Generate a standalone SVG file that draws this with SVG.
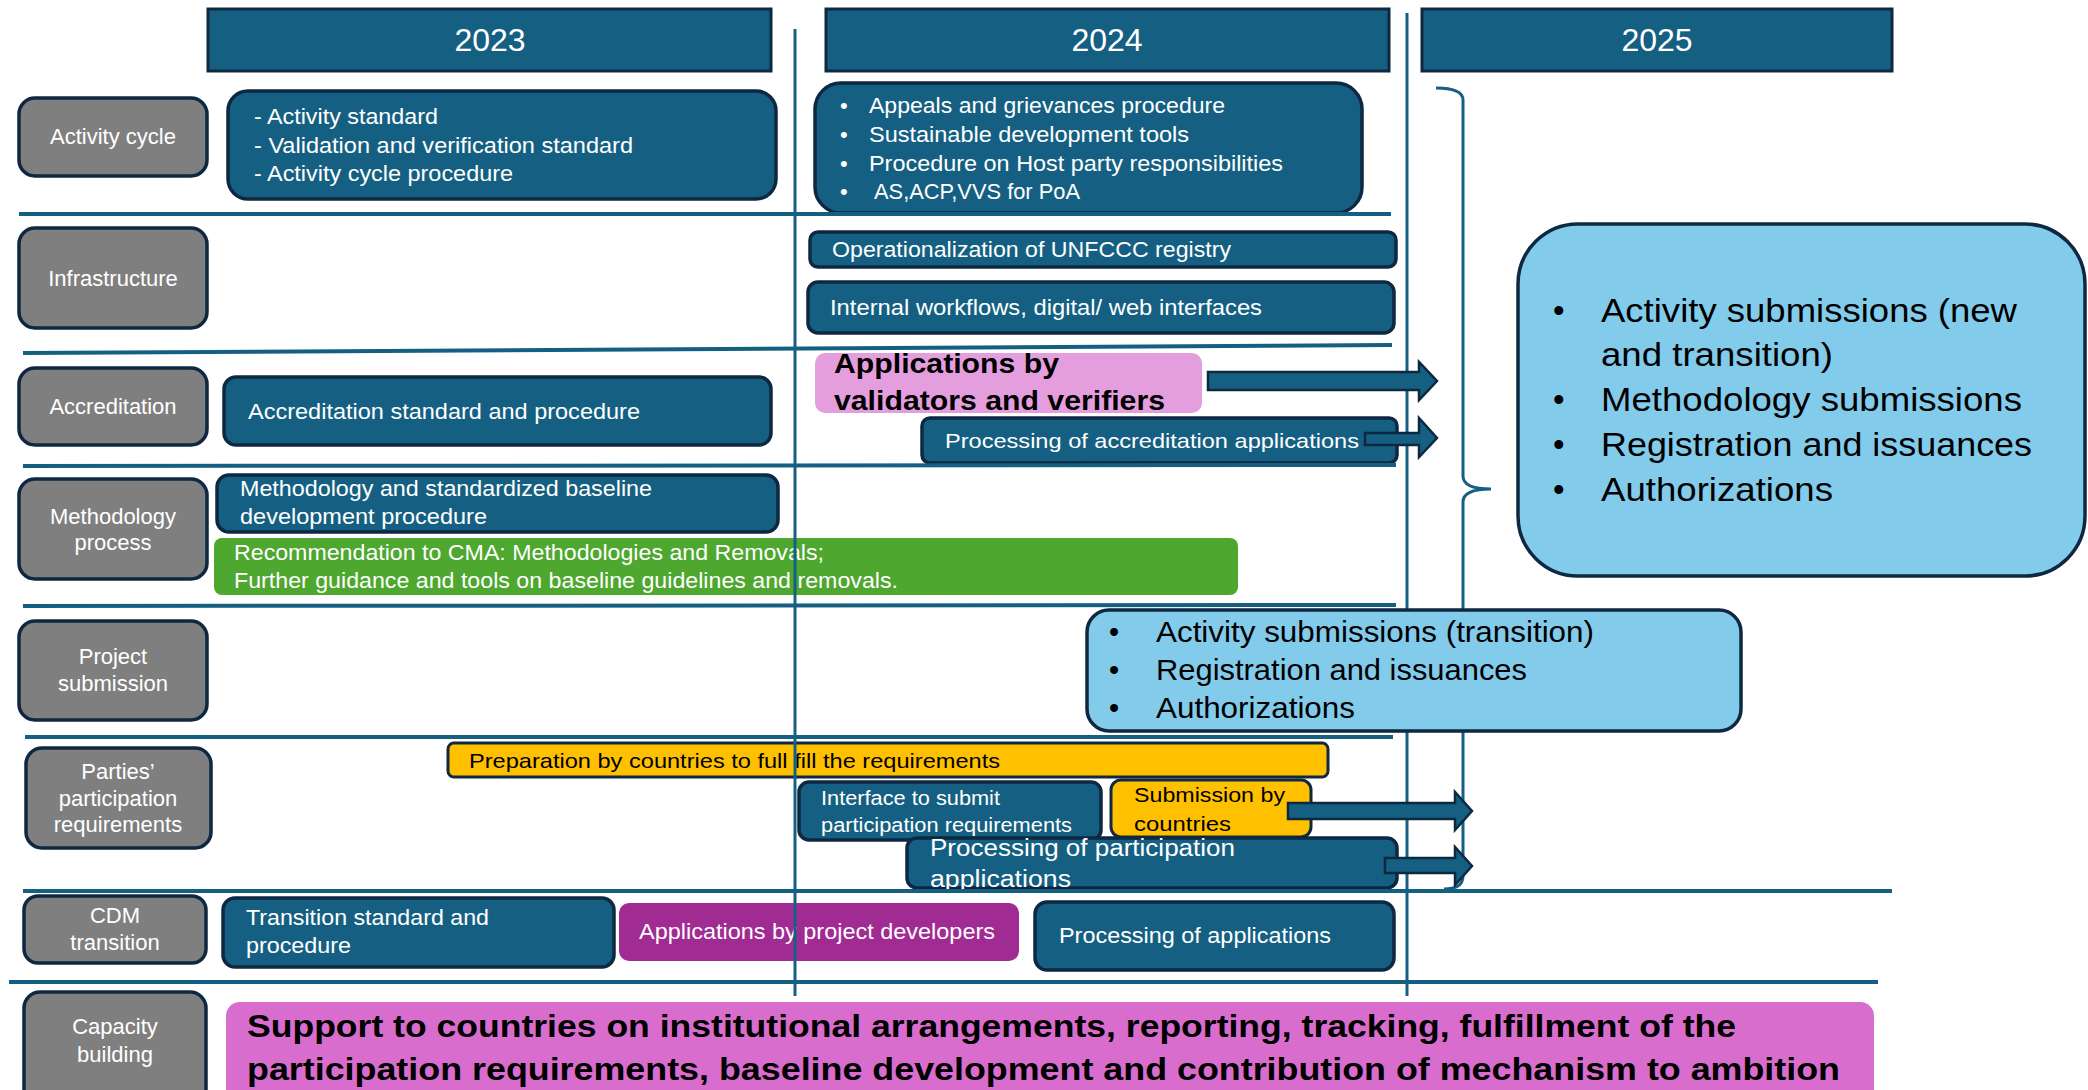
<svg xmlns="http://www.w3.org/2000/svg" width="2088" height="1090" viewBox="0 0 2088 1090">
<style>
text{font-family:"Liberation Sans",Arial,sans-serif}
.lbl{fill:#7f7f7f;stroke:#0e2841;stroke-width:3.5}
.dk{fill:#156082;stroke:#0e2841;stroke-width:3.5}
.hdr{fill:#156082;stroke:#0e2841;stroke-width:3}
.lb{fill:#83cbeb;stroke:#0e2841;stroke-width:3.5}
.yl{fill:#ffc000;stroke:#0e2841;stroke-width:3}
.ln{stroke:#156082;stroke-width:4;fill:none}
.vl{stroke:#156082;stroke-width:3;fill:none}
.arr{fill:#156082;stroke:#0e2841;stroke-width:2.5}
.w{fill:#fff}
.k{fill:#000}
.lt{fill:#fff;font-size:22px;text-anchor:middle}
.t22{font-size:22px}
.hd{fill:#fff;font-size:32px;text-anchor:middle}
</style>

<g id="headers">
<g id="h2023"><rect class="hdr" x="208" y="9" width="563" height="62"/><text class="hd" x="490" y="51">2023</text></g>
<g id="h2024"><rect class="hdr" x="826" y="9" width="563" height="62"/><text class="hd" x="1107" y="51">2024</text></g>
<g id="h2025"><rect class="hdr" x="1422" y="9" width="470" height="62"/><text class="hd" x="1657" y="51">2025</text></g>
</g>

<g id="labels">
<g id="lbl-activity"><rect class="lbl" x="19" y="98" width="188" height="78" rx="16"/><text class="lt" x="113" y="144">Activity cycle</text></g>
<g id="lbl-infra"><rect class="lbl" x="19" y="228" width="188" height="100" rx="16"/><text class="lt" x="113" y="286">Infrastructure</text></g>
<g id="lbl-accr"><rect class="lbl" x="19" y="368" width="188" height="77" rx="16"/><text class="lt" x="113" y="414">Accreditation</text></g>
<g id="lbl-meth"><rect class="lbl" x="19" y="479" width="188" height="100" rx="16"/><text class="lt" x="113" y="524">Methodology</text><text class="lt" x="113" y="550">process</text></g>
<g id="lbl-proj"><rect class="lbl" x="19" y="621" width="188" height="99" rx="16"/><text class="lt" x="113" y="664">Project</text><text class="lt" x="113" y="691">submission</text></g>
<g id="lbl-parties"><rect class="lbl" x="26" y="748" width="185" height="100" rx="16"/><text class="lt" x="118" y="779">Parties’</text><text class="lt" x="118" y="806">participation</text><text class="lt" x="118" y="832">requirements</text></g>
<g id="lbl-cdm"><rect class="lbl" x="24" y="896" width="182" height="67" rx="14"/><text class="lt" x="115" y="923">CDM</text><text class="lt" x="115" y="950">transition</text></g>
<g id="lbl-cap"><rect class="lbl" x="24" y="992" width="182" height="120" rx="16"/><text class="lt" x="115" y="1034">Capacity</text><text class="lt" x="115" y="1062">building</text></g>
</g>

<g id="tasks">
<g id="act2023"><rect class="dk" x="228" y="91" width="548" height="108" rx="20"/>
<text class="w t22" x="254" y="124" textLength="184" lengthAdjust="spacingAndGlyphs">- Activity standard</text>
<text class="w t22" x="254" y="153" textLength="379" lengthAdjust="spacingAndGlyphs">- Validation and verification standard</text>
<text class="w t22" x="254" y="181" textLength="259" lengthAdjust="spacingAndGlyphs">- Activity cycle procedure</text></g>

<g id="act2024"><rect class="dk" x="815" y="83" width="547" height="130" rx="26"/>
<text class="w t22" x="840" y="113">•</text><text class="w t22" x="869" y="113" textLength="356" lengthAdjust="spacingAndGlyphs">Appeals and grievances procedure</text>
<text class="w t22" x="840" y="142">•</text><text class="w t22" x="869" y="142" textLength="320" lengthAdjust="spacingAndGlyphs">Sustainable development tools</text>
<text class="w t22" x="840" y="171">•</text><text class="w t22" x="869" y="171" textLength="414" lengthAdjust="spacingAndGlyphs">Procedure on Host party responsibilities</text>
<text class="w t22" x="840" y="199">•</text><text class="w t22" x="874" y="199" textLength="206" lengthAdjust="spacingAndGlyphs">AS,ACP,VVS for PoA</text></g>

<g id="registry"><rect class="dk" x="810" y="232" width="586" height="35" rx="8"/><text class="w t22" x="832" y="257" textLength="399" lengthAdjust="spacingAndGlyphs">Operationalization of UNFCCC registry</text></g>
<g id="workflows"><rect class="dk" x="808" y="282" width="586" height="51" rx="10"/><text class="w t22" x="830" y="315" textLength="432" lengthAdjust="spacingAndGlyphs">Internal workflows, digital/ web interfaces</text></g>

<g id="accr-std"><rect class="dk" x="224" y="377" width="547" height="68" rx="12"/><text class="w t22" x="248" y="419" textLength="392" lengthAdjust="spacingAndGlyphs">Accreditation standard and procedure</text></g>
<g id="apps-vv"><rect fill="#e49edd" x="815" y="353" width="387" height="60" rx="10"/>
<text class="k" style="font-size:27px;font-weight:bold" x="834" y="373" textLength="225" lengthAdjust="spacingAndGlyphs">Applications by</text>
<text class="k" style="font-size:27px;font-weight:bold" x="834" y="410" textLength="331" lengthAdjust="spacingAndGlyphs">validators and verifiers</text></g>
<g id="proc-accr"><rect class="dk" x="922" y="418" width="475" height="45" rx="8"/><text class="w" style="font-size:21px" x="945" y="448" textLength="414" lengthAdjust="spacingAndGlyphs">Processing of accreditation applications</text></g>

<g id="meth-std"><rect class="dk" x="217" y="475" width="561" height="57" rx="12"/>
<text class="w t22" x="240" y="496" textLength="412" lengthAdjust="spacingAndGlyphs">Methodology and standardized baseline</text>
<text class="w t22" x="240" y="524" textLength="247" lengthAdjust="spacingAndGlyphs">development procedure</text></g>
<g id="recommend"><rect fill="#4ea72e" x="214" y="538" width="1024" height="57" rx="8"/>
<text class="w t22" x="234" y="560" textLength="590" lengthAdjust="spacingAndGlyphs">Recommendation to CMA: Methodologies and Removals;</text>
<text class="w t22" x="234" y="588" textLength="664" lengthAdjust="spacingAndGlyphs">Further guidance and tools on baseline guidelines and removals.</text></g>

<g id="prep"><rect class="yl" x="448" y="743" width="880" height="34" rx="6"/><text class="k" style="font-size:21px" x="469" y="768" textLength="531" lengthAdjust="spacingAndGlyphs">Preparation by countries to full fill the requirements</text></g>
<g id="interface"><rect class="dk" x="799" y="782" width="302" height="58" rx="10"/>
<text class="w" style="font-size:20px" x="821" y="805" textLength="179" lengthAdjust="spacingAndGlyphs">Interface to submit</text>
<text class="w" style="font-size:20px" x="821" y="832" textLength="251" lengthAdjust="spacingAndGlyphs">participation requirements</text></g>
<g id="submission"><rect class="yl" x="1111" y="780" width="200" height="57" rx="10"/>
<text class="k" style="font-size:21px" x="1134" y="802" textLength="151" lengthAdjust="spacingAndGlyphs">Submission by</text>
<text class="k" style="font-size:21px" x="1134" y="831" textLength="97" lengthAdjust="spacingAndGlyphs">countries</text></g>
<g id="proc-part"><rect class="dk" x="907" y="838" width="490" height="50" rx="10"/>
<text class="w" style="font-size:23px" x="930" y="856" textLength="305" lengthAdjust="spacingAndGlyphs">Processing of participation</text>
<text class="w" style="font-size:23px" x="930" y="887" textLength="141" lengthAdjust="spacingAndGlyphs">applications</text></g>

<g id="transition"><rect class="dk" x="223" y="898" width="391" height="69" rx="12"/>
<text class="w t22" x="246" y="925" textLength="243" lengthAdjust="spacingAndGlyphs">Transition standard and</text>
<text class="w t22" x="246" y="953" textLength="105" lengthAdjust="spacingAndGlyphs">procedure</text></g>
<g id="apps-pd"><rect fill="#a02b93" x="619" y="903" width="400" height="58" rx="10"/><text class="w t22" x="639" y="939" textLength="356" lengthAdjust="spacingAndGlyphs">Applications by project developers</text></g>
<g id="proc-apps"><rect class="dk" x="1035" y="902" width="359" height="68" rx="12"/><text class="w t22" x="1059" y="943" textLength="272" lengthAdjust="spacingAndGlyphs">Processing of applications</text></g>

<g id="capacity"><rect fill="#d86dcd" x="226" y="1002" width="1648" height="110" rx="14"/>
<text class="k" style="font-size:32px;font-weight:bold" x="247" y="1037" textLength="1489" lengthAdjust="spacingAndGlyphs">Support to countries on institutional arrangements, reporting, tracking, fulfillment of the</text>
<text class="k" style="font-size:32px;font-weight:bold" x="247" y="1080" textLength="1593" lengthAdjust="spacingAndGlyphs">participation requirements, baseline development and contribution of mechanism to ambition</text></g>
</g>

<g id="connectors">
<line class="ln" x1="19" y1="214" x2="1391" y2="214"/>
<line class="ln" x1="23" y1="353" x2="1392" y2="345"/>
<line class="ln" x1="23" y1="466" x2="1396" y2="465"/>
<line class="ln" x1="23" y1="606" x2="1396" y2="605"/>
<line class="ln" x1="25" y1="737" x2="1393" y2="737"/>
<line class="ln" x1="23" y1="891" x2="1892" y2="891"/>
<line class="ln" x1="9" y1="982" x2="1878" y2="982"/>
<line class="vl" x1="795" y1="29" x2="795" y2="996"/>
<line class="vl" x1="1407" y1="13" x2="1407" y2="996"/>
<path class="vl" d="M1436,88 Q1463,88 1463,100 L1463,476 Q1463,489 1491,489 Q1463,489 1463,502 L1463,876 Q1463,889 1444,889"/>
<polygon class="arr" points="1208,372 1419,372 1419,362 1437,381 1419,400 1419,390 1208,390"/>
<polygon class="arr" points="1365,433 1419,433 1419,418 1437,438 1419,457 1419,445 1365,445"/>
<polygon class="arr" points="1288,803 1455,803 1455,792 1472,811 1455,830 1455,819 1288,819"/>
<polygon class="arr" points="1385,858 1455,858 1455,847 1472,866 1455,885 1455,873 1385,873"/>
</g>

<g id="outcomes">
<g id="proj-out"><rect class="lb" x="1087" y="610" width="654" height="121" rx="22"/>
<text class="k" style="font-size:29px" x="1109" y="642">•</text><text class="k" style="font-size:29px" x="1156" y="642" textLength="438" lengthAdjust="spacingAndGlyphs">Activity submissions (transition)</text>
<text class="k" style="font-size:29px" x="1109" y="680">•</text><text class="k" style="font-size:29px" x="1156" y="680" textLength="371" lengthAdjust="spacingAndGlyphs">Registration and issuances</text>
<text class="k" style="font-size:29px" x="1109" y="718">•</text><text class="k" style="font-size:29px" x="1156" y="718" textLength="199" lengthAdjust="spacingAndGlyphs">Authorizations</text></g>
<g id="out-2025"><rect class="lb" x="1518" y="224" width="567" height="352" rx="60"/>
<text class="k" style="font-size:33px" x="1553" y="322">•</text><text class="k" style="font-size:33px" x="1601" y="322" textLength="416" lengthAdjust="spacingAndGlyphs">Activity submissions (new</text>
<text class="k" style="font-size:33px" x="1601" y="366" textLength="232" lengthAdjust="spacingAndGlyphs">and transition)</text>
<text class="k" style="font-size:33px" x="1553" y="411">•</text><text class="k" style="font-size:33px" x="1601" y="411" textLength="421" lengthAdjust="spacingAndGlyphs">Methodology submissions</text>
<text class="k" style="font-size:33px" x="1553" y="456">•</text><text class="k" style="font-size:33px" x="1601" y="456" textLength="431" lengthAdjust="spacingAndGlyphs">Registration and issuances</text>
<text class="k" style="font-size:33px" x="1553" y="501">•</text><text class="k" style="font-size:33px" x="1601" y="501" textLength="232" lengthAdjust="spacingAndGlyphs">Authorizations</text></g>
</g>
</svg>
